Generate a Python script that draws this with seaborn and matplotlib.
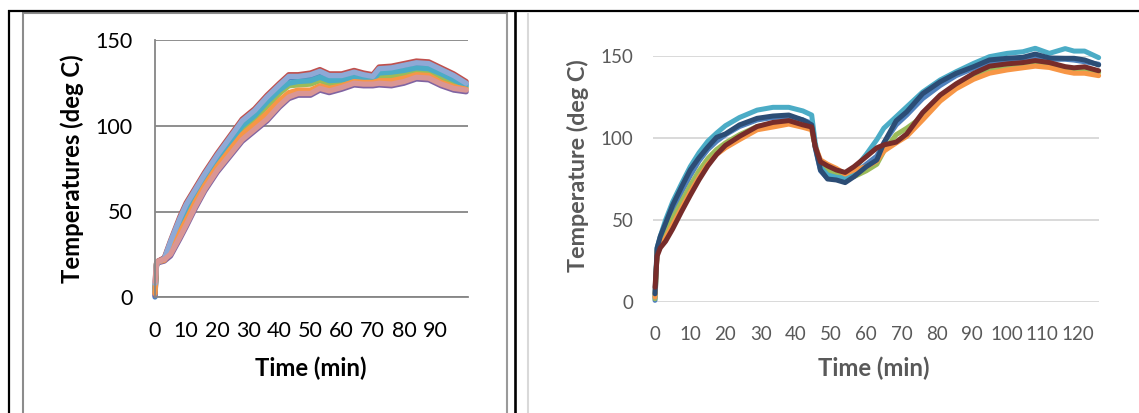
import numpy as np
import pandas as pd
import matplotlib
matplotlib.use("Agg")
import matplotlib.pyplot as plt
import seaborn as sns
from matplotlib.lines import Line2D

# ---------------- data: left chart ----------------
time_left = [0, 0.5, 1, 3, 5, 8, 10, 13, 16, 20, 24, 28, 32, 36, 40, 43, 46, 50, 53, 56,
             60, 64, 67, 70, 72, 76, 80, 84, 88, 92, 96, 100]
left_blue = [0, 19.5, 21, 22.5, 32, 45, 53, 62, 71, 82, 92, 102, 108, 116, 123, 128, 128.5, 129, 131, 129,
             129, 131, 129.5, 128.5, 132.5, 133, 134.5, 136, 135.5, 132, 128.5, 124.5]
left_red = [5, 20, 21, 23, 33, 47, 55, 64, 73, 84, 94, 104, 110, 118, 125, 130, 130, 131, 133, 130.5,
            130.5, 132.5, 131, 130, 134.5, 135, 136.5, 138, 137.5, 134, 130.5, 126]
left_green = [3, 19.5, 20.5, 21.5, 28, 41, 49, 58, 67, 78, 88, 98, 104, 111.5, 119, 123.5, 124, 124.5, 126.5, 124.5,
              125, 127, 126, 125.5, 128.5, 129, 130, 131.5, 131, 128, 125, 122.5]
left_purple = [1, 19, 20, 21, 24, 34, 41, 52, 62, 73, 82, 91, 97, 103, 111, 116, 118, 118, 121, 119.5,
               121.5, 124, 123.5, 123.5, 124, 123.5, 125, 127.5, 127, 123.5, 121, 120]
left_aqua = [4, 19.5, 20.5, 22, 30, 43, 51, 60, 69, 80, 90, 100, 106, 114, 121, 125, 126, 126.5, 128.5, 126.5,
             127, 128.5, 127.5, 127, 131, 131.5, 132.5, 134, 133.5, 130.5, 127, 123.5]
left_orange = [2, 19.5, 20.5, 21.5, 27, 38, 45, 56, 65.5, 76.5, 86, 95, 101, 107.5, 115, 119.5, 121, 121, 123.5, 122,
               123.5, 126, 125.5, 125.5, 126.5, 126.5, 128, 130, 129.5, 125.5, 123, 121.5]
left_lightblue = [8, 19.5, 20.5, 22.5, 32.5, 46, 54, 63, 72, 83, 93, 103, 109, 117, 124, 129, 129, 130, 132, 129.5,
                  129.5, 131.5, 130, 129, 133.5, 134, 135.5, 137, 136.5, 133, 129.5, 125]
left_pink = [9, 20, 21, 22, 25, 35, 42, 53, 63, 74, 83, 92, 98, 104, 112, 117, 119, 119, 122, 120.5,
             122.5, 125, 124.5, 124.5, 125, 124.5, 126, 128.5, 128, 124.5, 122, 121]

left_series = {"S1": left_blue, "S2": left_red, "S3": left_green, "S4": left_purple,
               "S5": left_aqua, "S6": left_orange, "S7": left_lightblue, "S8": left_pink}
left_colors = {"S1": "#4F81BD", "S2": "#C0504D", "S3": "#9BBB59", "S4": "#8064A2",
               "S5": "#4BACC6", "S6": "#F79646", "S7": "#8EA9D6", "S8": "#DA9694"}
left_xticks = [0, 10, 20, 30, 40, 50, 60, 70, 80, 90, 100]
left_xticklabels = ["0", "10", "20", "30", "40", "50", "60", "70", "80", "90", ""]
yticks = [0, 50, 100, 150]

# ---------------- data: right chart ----------------
time_right = [0, 0.6, 1.5, 3, 5, 7.5, 10, 12.5, 15, 17.5, 20, 24, 29, 33.5, 38, 42, 44.5, 45.5, 47, 49,
              51.5, 54, 56.5, 60, 63, 65, 68.5, 71.5, 76, 81, 85.5, 90.5, 95, 100, 104.5, 108, 112, 116.5, 119, 122, 126]
right_blue = [1, 32, 39, 46, 56, 67, 77, 86, 93, 98, 102, 107, 111, 112.5, 113, 111, 109, 94, 80, 75.5,
              75, 74, 77.5, 84, 89, 97, 108, 114, 124, 132, 138, 142.5, 146, 147.5, 148.5, 149.5, 148, 148, 147.5, 146.5, 145]
right_green = [2, 31, 37, 43, 51, 61, 71, 80, 87.5, 93, 97, 102, 107, 109, 110, 107, 105.5, 95, 84, 80,
               78, 76, 76.4, 80, 84, 92, 102, 106, 113, 124, 131, 137.5, 141, 142.5, 143.5, 144.5, 143.8, 142, 141.5, 141.5, 140]
right_aqua = [3, 33, 40, 50, 61, 72, 82.5, 91, 98, 103, 107.5, 112.5, 117, 118.7, 118.7, 116.5, 114, 97, 82, 77.5,
              76, 75.5, 80.5, 90, 99, 106, 113, 119, 128, 135.4, 140.4, 145.5, 149.6, 151.6, 152.6, 154.7, 151.6, 154.5, 153, 153, 149]
right_orange = [3, 31, 35, 39, 47, 57, 67, 76, 84, 90, 94, 99, 105, 106.7, 108.5, 106.5, 105, 95, 86.6, 84,
                81.5, 78, 80.5, 82.5, 86, 92, 97, 101, 111, 122.5, 130, 135.8, 139.5, 141.5, 142.8, 143.8, 143, 140.5, 139.5, 139.5, 138]
right_darkblue = [5, 33, 40, 48, 59, 70, 80.5, 88, 94.5, 100.4, 102.5, 108, 112, 113.4, 114, 111, 108, 94.7, 80.5, 75,
                  74.4, 72.8, 76.4, 82.5, 86.6, 97, 110.5, 116, 127, 134.3, 139.4, 143.5, 147.6, 148.6, 149.2, 151.2, 148.8, 148.6, 148.6, 147.6, 144.5]
right_darkred = [9, 28, 33, 37, 44.5, 55, 65, 74.5, 83, 90, 95.5, 101, 107, 109.5, 110.6, 108, 106.7, 94.7, 85.5, 83,
                 80.5, 79, 82.5, 88.6, 94, 95.8, 97.5, 102.5, 115.5, 126.2, 133, 139.4, 143.8, 145.2, 146, 147.2, 146, 143.5, 142.8, 143.4, 141]

right_series = {"R1": right_blue, "R3": right_green, "R5": right_aqua, "R6": right_orange,
                "R7": right_darkblue, "R8": right_darkred}
right_colors = {"R1": "#4F81BD", "R3": "#9BBB59", "R5": "#4BACC6", "R6": "#F79646",
                "R7": "#2C4D75", "R8": "#772C2A"}
right_xticks = [0, 10, 20, 30, 40, 50, 60, 70, 80, 90, 100, 110, 120]

# ---------------- build long frames ----------------
def long_frame(times, series):
    rows = []
    for name, vals in series.items():
        for t, v in zip(times, vals):
            rows.append((name, t, v))
    return pd.DataFrame(rows, columns=["series", "time", "temp"])

df_left = long_frame(time_left, left_series)
df_right = long_frame(time_right, right_series)

# ---------------- figure ----------------
sns.set_style("white")
plt.rcParams["font.family"] = ["Lato", "DejaVu Sans"]

W, H = 1139, 413
fig = plt.figure(figsize=(W / 100, H / 100), dpi=100)
fig.patch.set_facecolor("white")

def rect(l, t, r, b):
    return [l / W, 1 - b / H, (r - l) / W, (b - t) / H]

axL = fig.add_axes(rect(155, 40.5, 468, 297))
axR = fig.add_axes(rect(653, 56, 1099, 302))

sns.lineplot(data=df_left, x="time", y="temp", hue="series", hue_order=list(left_series.keys()),
             palette=left_colors, estimator=None, sort=False, linewidth=3.8, legend=False, ax=axL)
sns.lineplot(data=df_right, x="time", y="temp", hue="series", hue_order=list(right_series.keys()),
             palette=right_colors, estimator=None, sort=False, linewidth=3.6, legend=False, ax=axR)

for ln in axL.lines + axR.lines:
    ln.set_solid_capstyle("round")
    ln.set_solid_joinstyle("round")
    ln.set_clip_on(False)

# left axes style
gL = "#868686"
axL.set_xlim(0, 100.6)
axL.set_ylim(0, 150)
axL.set_xticks(left_xticks)
axL.set_xticklabels(left_xticklabels)
axL.set_yticks(yticks)
axL.set_axisbelow(True)
axL.grid(axis="y", color=gL, linewidth=1.3)
axL.grid(axis="x", visible=False)
for s in ["top", "right"]:
    axL.spines[s].set_visible(False)
for s in ["left", "bottom"]:
    axL.spines[s].set_color(gL)
    axL.spines[s].set_linewidth(1.3)
axL.tick_params(axis="both", direction="out", length=6, width=1.3, color=gL,
                labelsize=15.5, labelcolor="black")
axL.tick_params(axis="y", pad=10)
axL.tick_params(axis="x", pad=11)
axL.set_xlabel("Time (min)", fontsize=17.2, fontweight="bold", color="black")
axL.set_ylabel("Temperatures (deg C)", fontsize=17.2, fontweight="bold", color="black")
axL.xaxis.label.set_va("center")
axL.yaxis.label.set_va("center")
axL.xaxis.set_label_coords((311 - 155) / 313, (297 - 368) / 256.5)
axL.yaxis.set_label_coords((72 - 155) / 313, (297 - 169) / 256.5)

# right axes style
gR = "#D9D9D9"
tR = "#595959"
axR.set_xlim(-0.57, 126.1)
axR.set_ylim(0, 150)
axR.set_xticks(right_xticks)
axR.set_yticks(yticks)
axR.set_axisbelow(True)
axR.grid(axis="y", color=gR, linewidth=1.4)
axR.grid(axis="x", visible=False)
for s in ["top", "right", "left", "bottom"]:
    axR.spines[s].set_visible(False)
axR.tick_params(axis="both", length=0, labelsize=13.5, labelcolor=tR)
axR.tick_params(axis="y", pad=14)
axR.tick_params(axis="x", pad=17)
axR.set_xlabel("Time (min)", fontsize=17.2, fontweight="bold", color=tR)
axR.set_ylabel("Temperature (deg C)", fontsize=16.8, fontweight="bold", color=tR)
axR.xaxis.label.set_va("center")
axR.yaxis.label.set_va("center")
axR.xaxis.set_label_coords((874 - 653) / 446, (302 - 368) / 246)
axR.yaxis.set_label_coords((578 - 653) / 446, (302 - 166) / 246)

# ---------------- table / chart frames ----------------
def fline(x0, y0, x1, y1, color, lw):
    fig.add_artist(Line2D([x0 / W, x1 / W], [1 - y0 / H, 1 - y1 / H], transform=fig.transFigure,
                          color=color, linewidth=lw, solid_capstyle="butt"))

# chart area borders
fline(22.5, 12.5, 22.5, 413, "#8C8C8C", 1.5)
fline(22, 12.8, 507.5, 12.8, "#8C8C8C", 1.5)
fline(507, 12.5, 507, 413, "#9A9A9A", 1.5)
fline(528, 12.5, 528, 413, "#D9D9D9", 1.5)
# table borders
fline(8, 11, 1139, 11, "black", 1.6)
fline(9, 10, 9, 413, "black", 1.6)
fline(514.5, 10, 514.5, 413, "black", 1.9)

fig.savefig("out.png", dpi=100, facecolor="white")
